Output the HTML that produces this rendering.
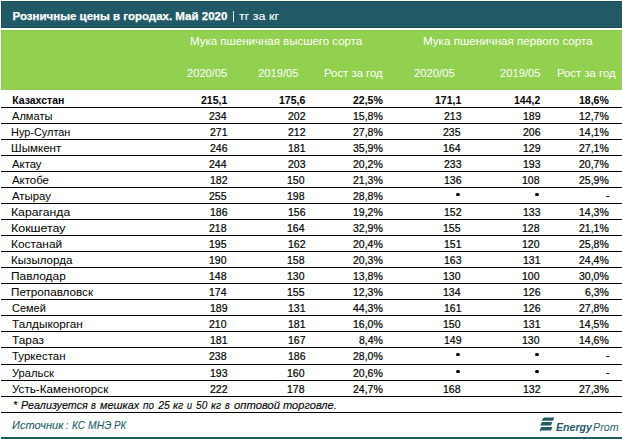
<!DOCTYPE html>
<html><head><meta charset="utf-8"><style>
html,body{margin:0;padding:0;background:#fff;}
body{width:622px;height:439px;position:relative;overflow:hidden;font-family:"Liberation Sans",sans-serif;}
.t{position:absolute;white-space:nowrap;line-height:20px;transform-origin:0 0;-webkit-text-stroke:0.2px currentColor;}
.b{-webkit-text-stroke:0;}
.i{-webkit-text-stroke:0.1px currentColor;}
.ln{position:absolute;left:1px;width:621px;height:1px;background:#000;}
#bar{position:absolute;left:1px;top:1px;width:621px;height:27px;background:#215967;box-sizing:border-box;border:1px solid #174d5c;border-right:none;}
#green{position:absolute;left:1px;top:30px;width:621px;height:60px;background:#92d050;box-sizing:border-box;border:1px solid #86c944;border-right:none;border-bottom:none;}
#pipe{position:absolute;left:232.5px;top:11px;width:1.2px;height:11px;background:#dfe8ea;}
.dot{position:absolute;width:3.3px;height:3.3px;border-radius:50%;background:#000;}
#bot{position:absolute;left:1px;top:437px;width:621px;height:2px;background:#215967;}
</style></head><body>
<div id="bar"></div>
<div id="green"></div>
<div id="pipe"></div>
<div class="ln" style="top:107px"></div><div class="ln" style="top:123px"></div><div class="ln" style="top:139px"></div><div class="ln" style="top:155px"></div><div class="ln" style="top:171px"></div><div class="ln" style="top:187px"></div><div class="ln" style="top:203px"></div><div class="ln" style="top:219px"></div><div class="ln" style="top:235px"></div><div class="ln" style="top:251px"></div><div class="ln" style="top:267px"></div><div class="ln" style="top:283px"></div><div class="ln" style="top:299px"></div><div class="ln" style="top:315px"></div><div class="ln" style="top:331px"></div><div class="ln" style="top:347px"></div><div class="ln" style="top:364px"></div><div class="ln" style="top:380px"></div><div class="ln" style="top:396px"></div><div class="ln" style="top:412px"></div>
<div class="dot" style="left:456.35px;top:192.55px"></div><div class="dot" style="left:535.35px;top:192.55px"></div><div class="dot" style="left:456.35px;top:352.55px"></div><div class="dot" style="left:535.35px;top:352.55px"></div><div class="dot" style="left:456.35px;top:369.55px"></div><div class="dot" style="left:535.35px;top:369.55px"></div>
<div id="bot"></div>
<svg style="position:absolute;left:536px;top:414px" width="22" height="22" viewBox="0 0 22 22">
<path fill="#235a66" d="M8,3.4 L18.4,3.4 L16.9,6.8 L5.9,6.8 Q6.4,4.2 8,3.4Z M6.3,8.1 L16.3,8.1 L15,11.6 L4.4,11.6 Q4.9,8.9 6.3,8.1Z M5.5,13.1 L16.3,13.1 L15,16.6 L5,16.6 L3.9,18.1 Q3.9,14 5.5,13.1Z"/>
</svg>
<div class="t b" style="left:12.60px;top:6.02px;font-size:11.5px;font-weight:bold;font-style:normal;color:#fff;-webkit-text-stroke:0.25px currentColor;">Розничные цены в городах. Май 2020</div><div class="t b" style="left:239.00px;top:6.02px;font-size:11.5px;font-weight:normal;font-style:normal;color:#fff;transform:scaleX(1.0919);-webkit-text-stroke:0.1px currentColor;">тг за кг</div><div class="t b" style="left:190.11px;top:31.36px;font-size:10.5px;font-weight:normal;font-style:normal;color:#fff;transform:scaleX(1.0949);">Мука пшеничная высшего сорта</div><div class="t b" style="left:423.39px;top:31.36px;font-size:10.5px;font-weight:normal;font-style:normal;color:#fff;transform:scaleX(1.1059);">Мука пшеничная первого сорта</div><div class="t b" style="left:187.45px;top:63.36px;font-size:10.5px;font-weight:normal;font-style:normal;color:#fff;transform:scaleX(1.0618);">2020/05</div><div class="t b" style="left:258.10px;top:63.36px;font-size:10.5px;font-weight:normal;font-style:normal;color:#fff;transform:scaleX(1.0658);">2019/05</div><div class="t b" style="left:324.12px;top:63.36px;font-size:10.5px;font-weight:normal;font-style:normal;color:#fff;transform:scaleX(1.0815);">Рост за год</div><div class="t b" style="left:414.00px;top:63.36px;font-size:10.5px;font-weight:normal;font-style:normal;color:#fff;transform:scaleX(1.0711);">2020/05</div><div class="t b" style="left:500.10px;top:63.36px;font-size:10.5px;font-weight:normal;font-style:normal;color:#fff;transform:scaleX(1.0658);">2019/05</div><div class="t b" style="left:557.02px;top:63.36px;font-size:10.5px;font-weight:normal;font-style:normal;color:#fff;transform:scaleX(1.0796);">Рост за год</div><div class="t b" style="left:12.20px;top:90.36px;font-size:10.5px;font-weight:bold;font-style:normal;color:#000;">Казахстан</div><div class="t b" style="left:201.00px;top:90.36px;font-size:10.5px;font-weight:bold;font-style:normal;color:#000;">215,1</div><div class="t b" style="left:279.00px;top:90.36px;font-size:10.5px;font-weight:bold;font-style:normal;color:#000;">175,6</div><div class="t b" style="left:353.00px;top:90.36px;font-size:10.5px;font-weight:bold;font-style:normal;color:#000;">22,5%</div><div class="t b" style="left:435.00px;top:90.36px;font-size:10.5px;font-weight:bold;font-style:normal;color:#000;">171,1</div><div class="t b" style="left:514.00px;top:90.36px;font-size:10.5px;font-weight:bold;font-style:normal;color:#000;">144,2</div><div class="t b" style="left:579.00px;top:90.36px;font-size:10.5px;font-weight:bold;font-style:normal;color:#000;">18,6%</div><div class="t" style="left:12.20px;top:106.36px;font-size:10.5px;font-weight:normal;font-style:normal;color:#000;transform:scaleX(1.0553);-webkit-text-stroke:0px currentColor;">Алматы</div><div class="t" style="left:209.00px;top:106.36px;font-size:10.5px;font-weight:normal;font-style:normal;color:#000;">234</div><div class="t" style="left:288.00px;top:106.36px;font-size:10.5px;font-weight:normal;font-style:normal;color:#000;">202</div><div class="t" style="left:353.00px;top:106.36px;font-size:10.5px;font-weight:normal;font-style:normal;color:#000;">15,8%</div><div class="t" style="left:444.00px;top:106.36px;font-size:10.5px;font-weight:normal;font-style:normal;color:#000;">213</div><div class="t" style="left:523.00px;top:106.36px;font-size:10.5px;font-weight:normal;font-style:normal;color:#000;">189</div><div class="t" style="left:579.00px;top:106.36px;font-size:10.5px;font-weight:normal;font-style:normal;color:#000;">12,7%</div><div class="t" style="left:11.16px;top:122.36px;font-size:10.5px;font-weight:normal;font-style:normal;color:#000;transform:scaleX(1.0393);-webkit-text-stroke:0px currentColor;">Нур-Султан</div><div class="t" style="left:210.00px;top:122.36px;font-size:10.5px;font-weight:normal;font-style:normal;color:#000;">271</div><div class="t" style="left:288.00px;top:122.36px;font-size:10.5px;font-weight:normal;font-style:normal;color:#000;">212</div><div class="t" style="left:353.00px;top:122.36px;font-size:10.5px;font-weight:normal;font-style:normal;color:#000;">27,8%</div><div class="t" style="left:443.00px;top:122.36px;font-size:10.5px;font-weight:normal;font-style:normal;color:#000;">235</div><div class="t" style="left:523.00px;top:122.36px;font-size:10.5px;font-weight:normal;font-style:normal;color:#000;">206</div><div class="t" style="left:579.00px;top:122.36px;font-size:10.5px;font-weight:normal;font-style:normal;color:#000;">14,1%</div><div class="t" style="left:11.10px;top:138.36px;font-size:10.5px;font-weight:normal;font-style:normal;color:#000;transform:scaleX(1.1044);-webkit-text-stroke:0px currentColor;">Шымкент</div><div class="t" style="left:210.00px;top:138.36px;font-size:10.5px;font-weight:normal;font-style:normal;color:#000;">246</div><div class="t" style="left:288.00px;top:138.36px;font-size:10.5px;font-weight:normal;font-style:normal;color:#000;">181</div><div class="t" style="left:353.00px;top:138.36px;font-size:10.5px;font-weight:normal;font-style:normal;color:#000;">35,9%</div><div class="t" style="left:443.00px;top:138.36px;font-size:10.5px;font-weight:normal;font-style:normal;color:#000;">164</div><div class="t" style="left:523.00px;top:138.36px;font-size:10.5px;font-weight:normal;font-style:normal;color:#000;">129</div><div class="t" style="left:579.00px;top:138.36px;font-size:10.5px;font-weight:normal;font-style:normal;color:#000;">27,1%</div><div class="t" style="left:12.20px;top:154.36px;font-size:10.5px;font-weight:normal;font-style:normal;color:#000;transform:scaleX(1.0786);-webkit-text-stroke:0px currentColor;">Актау</div><div class="t" style="left:209.00px;top:154.36px;font-size:10.5px;font-weight:normal;font-style:normal;color:#000;">244</div><div class="t" style="left:288.00px;top:154.36px;font-size:10.5px;font-weight:normal;font-style:normal;color:#000;">203</div><div class="t" style="left:353.00px;top:154.36px;font-size:10.5px;font-weight:normal;font-style:normal;color:#000;">20,2%</div><div class="t" style="left:444.00px;top:154.36px;font-size:10.5px;font-weight:normal;font-style:normal;color:#000;">233</div><div class="t" style="left:523.00px;top:154.36px;font-size:10.5px;font-weight:normal;font-style:normal;color:#000;">193</div><div class="t" style="left:579.00px;top:154.36px;font-size:10.5px;font-weight:normal;font-style:normal;color:#000;">20,7%</div><div class="t" style="left:12.20px;top:170.36px;font-size:10.5px;font-weight:normal;font-style:normal;color:#000;transform:scaleX(1.0882);-webkit-text-stroke:0px currentColor;">Актобе</div><div class="t" style="left:210.00px;top:170.36px;font-size:10.5px;font-weight:normal;font-style:normal;color:#000;">182</div><div class="t" style="left:287.00px;top:170.36px;font-size:10.5px;font-weight:normal;font-style:normal;color:#000;">150</div><div class="t" style="left:353.00px;top:170.36px;font-size:10.5px;font-weight:normal;font-style:normal;color:#000;">21,3%</div><div class="t" style="left:444.00px;top:170.36px;font-size:10.5px;font-weight:normal;font-style:normal;color:#000;">136</div><div class="t" style="left:522.00px;top:170.36px;font-size:10.5px;font-weight:normal;font-style:normal;color:#000;">108</div><div class="t" style="left:579.00px;top:170.36px;font-size:10.5px;font-weight:normal;font-style:normal;color:#000;">25,9%</div><div class="t" style="left:12.20px;top:186.36px;font-size:10.5px;font-weight:normal;font-style:normal;color:#000;transform:scaleX(1.0861);-webkit-text-stroke:0px currentColor;">Атырау</div><div class="t" style="left:209.00px;top:186.36px;font-size:10.5px;font-weight:normal;font-style:normal;color:#000;">255</div><div class="t" style="left:287.00px;top:186.36px;font-size:10.5px;font-weight:normal;font-style:normal;color:#000;">198</div><div class="t" style="left:353.00px;top:186.36px;font-size:10.5px;font-weight:normal;font-style:normal;color:#000;">28,8%</div><div class="t" style="left:606.00px;top:185.36px;font-size:10.5px;font-weight:normal;font-style:normal;color:#000;">-</div><div class="t" style="left:11.04px;top:202.36px;font-size:10.5px;font-weight:normal;font-style:normal;color:#000;transform:scaleX(1.1640);-webkit-text-stroke:0px currentColor;">Караганда</div><div class="t" style="left:210.00px;top:202.36px;font-size:10.5px;font-weight:normal;font-style:normal;color:#000;">186</div><div class="t" style="left:288.00px;top:202.36px;font-size:10.5px;font-weight:normal;font-style:normal;color:#000;">156</div><div class="t" style="left:353.00px;top:202.36px;font-size:10.5px;font-weight:normal;font-style:normal;color:#000;">19,2%</div><div class="t" style="left:444.00px;top:202.36px;font-size:10.5px;font-weight:normal;font-style:normal;color:#000;">152</div><div class="t" style="left:523.00px;top:202.36px;font-size:10.5px;font-weight:normal;font-style:normal;color:#000;">133</div><div class="t" style="left:579.00px;top:202.36px;font-size:10.5px;font-weight:normal;font-style:normal;color:#000;">14,3%</div><div class="t" style="left:11.02px;top:218.36px;font-size:10.5px;font-weight:normal;font-style:normal;color:#000;transform:scaleX(1.1822);-webkit-text-stroke:0px currentColor;">Кокшетау</div><div class="t" style="left:209.00px;top:218.36px;font-size:10.5px;font-weight:normal;font-style:normal;color:#000;">218</div><div class="t" style="left:287.00px;top:218.36px;font-size:10.5px;font-weight:normal;font-style:normal;color:#000;">164</div><div class="t" style="left:353.00px;top:218.36px;font-size:10.5px;font-weight:normal;font-style:normal;color:#000;">32,9%</div><div class="t" style="left:443.00px;top:218.36px;font-size:10.5px;font-weight:normal;font-style:normal;color:#000;">155</div><div class="t" style="left:522.00px;top:218.36px;font-size:10.5px;font-weight:normal;font-style:normal;color:#000;">128</div><div class="t" style="left:579.00px;top:218.36px;font-size:10.5px;font-weight:normal;font-style:normal;color:#000;">21,1%</div><div class="t" style="left:11.07px;top:234.36px;font-size:10.5px;font-weight:normal;font-style:normal;color:#000;transform:scaleX(1.1295);-webkit-text-stroke:0px currentColor;">Костанай</div><div class="t" style="left:209.00px;top:234.36px;font-size:10.5px;font-weight:normal;font-style:normal;color:#000;">195</div><div class="t" style="left:288.00px;top:234.36px;font-size:10.5px;font-weight:normal;font-style:normal;color:#000;">162</div><div class="t" style="left:353.00px;top:234.36px;font-size:10.5px;font-weight:normal;font-style:normal;color:#000;">20,4%</div><div class="t" style="left:444.00px;top:234.36px;font-size:10.5px;font-weight:normal;font-style:normal;color:#000;">151</div><div class="t" style="left:522.00px;top:234.36px;font-size:10.5px;font-weight:normal;font-style:normal;color:#000;">120</div><div class="t" style="left:579.00px;top:234.36px;font-size:10.5px;font-weight:normal;font-style:normal;color:#000;">25,8%</div><div class="t" style="left:11.10px;top:250.36px;font-size:10.5px;font-weight:normal;font-style:normal;color:#000;transform:scaleX(1.1036);-webkit-text-stroke:0px currentColor;">Кызылорда</div><div class="t" style="left:209.00px;top:250.36px;font-size:10.5px;font-weight:normal;font-style:normal;color:#000;">190</div><div class="t" style="left:287.00px;top:250.36px;font-size:10.5px;font-weight:normal;font-style:normal;color:#000;">158</div><div class="t" style="left:353.00px;top:250.36px;font-size:10.5px;font-weight:normal;font-style:normal;color:#000;">20,3%</div><div class="t" style="left:444.00px;top:250.36px;font-size:10.5px;font-weight:normal;font-style:normal;color:#000;">163</div><div class="t" style="left:523.00px;top:250.36px;font-size:10.5px;font-weight:normal;font-style:normal;color:#000;">131</div><div class="t" style="left:579.00px;top:250.36px;font-size:10.5px;font-weight:normal;font-style:normal;color:#000;">24,4%</div><div class="t" style="left:11.07px;top:266.36px;font-size:10.5px;font-weight:normal;font-style:normal;color:#000;transform:scaleX(1.1319);-webkit-text-stroke:0px currentColor;">Павлодар</div><div class="t" style="left:209.00px;top:266.36px;font-size:10.5px;font-weight:normal;font-style:normal;color:#000;">148</div><div class="t" style="left:287.00px;top:266.36px;font-size:10.5px;font-weight:normal;font-style:normal;color:#000;">130</div><div class="t" style="left:353.00px;top:266.36px;font-size:10.5px;font-weight:normal;font-style:normal;color:#000;">13,8%</div><div class="t" style="left:443.00px;top:266.36px;font-size:10.5px;font-weight:normal;font-style:normal;color:#000;">130</div><div class="t" style="left:522.00px;top:266.36px;font-size:10.5px;font-weight:normal;font-style:normal;color:#000;">100</div><div class="t" style="left:579.00px;top:266.36px;font-size:10.5px;font-weight:normal;font-style:normal;color:#000;">30,0%</div><div class="t" style="left:11.09px;top:282.36px;font-size:10.5px;font-weight:normal;font-style:normal;color:#000;transform:scaleX(1.1123);-webkit-text-stroke:0px currentColor;">Петропавловск</div><div class="t" style="left:209.00px;top:282.36px;font-size:10.5px;font-weight:normal;font-style:normal;color:#000;">174</div><div class="t" style="left:287.00px;top:282.36px;font-size:10.5px;font-weight:normal;font-style:normal;color:#000;">155</div><div class="t" style="left:353.00px;top:282.36px;font-size:10.5px;font-weight:normal;font-style:normal;color:#000;">12,3%</div><div class="t" style="left:443.00px;top:282.36px;font-size:10.5px;font-weight:normal;font-style:normal;color:#000;">134</div><div class="t" style="left:523.00px;top:282.36px;font-size:10.5px;font-weight:normal;font-style:normal;color:#000;">126</div><div class="t" style="left:585.00px;top:282.36px;font-size:10.5px;font-weight:normal;font-style:normal;color:#000;">6,3%</div><div class="t" style="left:12.20px;top:298.36px;font-size:10.5px;font-weight:normal;font-style:normal;color:#000;transform:scaleX(1.0438);-webkit-text-stroke:0px currentColor;">Семей</div><div class="t" style="left:210.00px;top:298.36px;font-size:10.5px;font-weight:normal;font-style:normal;color:#000;">189</div><div class="t" style="left:288.00px;top:298.36px;font-size:10.5px;font-weight:normal;font-style:normal;color:#000;">131</div><div class="t" style="left:353.00px;top:298.36px;font-size:10.5px;font-weight:normal;font-style:normal;color:#000;">44,3%</div><div class="t" style="left:444.00px;top:298.36px;font-size:10.5px;font-weight:normal;font-style:normal;color:#000;">161</div><div class="t" style="left:523.00px;top:298.36px;font-size:10.5px;font-weight:normal;font-style:normal;color:#000;">126</div><div class="t" style="left:579.00px;top:298.36px;font-size:10.5px;font-weight:normal;font-style:normal;color:#000;">27,8%</div><div class="t" style="left:12.20px;top:314.36px;font-size:10.5px;font-weight:normal;font-style:normal;color:#000;transform:scaleX(1.1206);-webkit-text-stroke:0px currentColor;">Талдыкорган</div><div class="t" style="left:209.00px;top:314.36px;font-size:10.5px;font-weight:normal;font-style:normal;color:#000;">210</div><div class="t" style="left:288.00px;top:314.36px;font-size:10.5px;font-weight:normal;font-style:normal;color:#000;">181</div><div class="t" style="left:353.00px;top:314.36px;font-size:10.5px;font-weight:normal;font-style:normal;color:#000;">16,0%</div><div class="t" style="left:443.00px;top:314.36px;font-size:10.5px;font-weight:normal;font-style:normal;color:#000;">150</div><div class="t" style="left:523.00px;top:314.36px;font-size:10.5px;font-weight:normal;font-style:normal;color:#000;">131</div><div class="t" style="left:579.00px;top:314.36px;font-size:10.5px;font-weight:normal;font-style:normal;color:#000;">14,5%</div><div class="t" style="left:12.20px;top:330.36px;font-size:10.5px;font-weight:normal;font-style:normal;color:#000;transform:scaleX(1.1321);-webkit-text-stroke:0px currentColor;">Тараз</div><div class="t" style="left:210.00px;top:330.36px;font-size:10.5px;font-weight:normal;font-style:normal;color:#000;">181</div><div class="t" style="left:288.00px;top:330.36px;font-size:10.5px;font-weight:normal;font-style:normal;color:#000;">167</div><div class="t" style="left:359.00px;top:330.36px;font-size:10.5px;font-weight:normal;font-style:normal;color:#000;">8,4%</div><div class="t" style="left:444.00px;top:330.36px;font-size:10.5px;font-weight:normal;font-style:normal;color:#000;">149</div><div class="t" style="left:522.00px;top:330.36px;font-size:10.5px;font-weight:normal;font-style:normal;color:#000;">130</div><div class="t" style="left:579.00px;top:330.36px;font-size:10.5px;font-weight:normal;font-style:normal;color:#000;">14,6%</div><div class="t" style="left:12.20px;top:346.36px;font-size:10.5px;font-weight:normal;font-style:normal;color:#000;transform:scaleX(1.0939);-webkit-text-stroke:0px currentColor;">Туркестан</div><div class="t" style="left:209.00px;top:346.36px;font-size:10.5px;font-weight:normal;font-style:normal;color:#000;">238</div><div class="t" style="left:288.00px;top:346.36px;font-size:10.5px;font-weight:normal;font-style:normal;color:#000;">186</div><div class="t" style="left:353.00px;top:346.36px;font-size:10.5px;font-weight:normal;font-style:normal;color:#000;">28,0%</div><div class="t" style="left:606.00px;top:345.36px;font-size:10.5px;font-weight:normal;font-style:normal;color:#000;">-</div><div class="t" style="left:12.20px;top:363.36px;font-size:10.5px;font-weight:normal;font-style:normal;color:#000;transform:scaleX(1.0650);-webkit-text-stroke:0px currentColor;">Уральск</div><div class="t" style="left:210.00px;top:363.36px;font-size:10.5px;font-weight:normal;font-style:normal;color:#000;">193</div><div class="t" style="left:287.00px;top:363.36px;font-size:10.5px;font-weight:normal;font-style:normal;color:#000;">160</div><div class="t" style="left:353.00px;top:363.36px;font-size:10.5px;font-weight:normal;font-style:normal;color:#000;">20,6%</div><div class="t" style="left:606.00px;top:362.36px;font-size:10.5px;font-weight:normal;font-style:normal;color:#000;">-</div><div class="t" style="left:12.20px;top:379.36px;font-size:10.5px;font-weight:normal;font-style:normal;color:#000;transform:scaleX(1.1092);-webkit-text-stroke:0px currentColor;">Усть-Каменогорск</div><div class="t" style="left:210.00px;top:379.36px;font-size:10.5px;font-weight:normal;font-style:normal;color:#000;">222</div><div class="t" style="left:287.00px;top:379.36px;font-size:10.5px;font-weight:normal;font-style:normal;color:#000;">178</div><div class="t" style="left:353.00px;top:379.36px;font-size:10.5px;font-weight:normal;font-style:normal;color:#000;">24,7%</div><div class="t" style="left:443.00px;top:379.36px;font-size:10.5px;font-weight:normal;font-style:normal;color:#000;">168</div><div class="t" style="left:523.00px;top:379.36px;font-size:10.5px;font-weight:normal;font-style:normal;color:#000;">132</div><div class="t" style="left:579.00px;top:379.36px;font-size:10.5px;font-weight:normal;font-style:normal;color:#000;">27,3%</div><div class="t i" style="left:13.20px;top:395.36px;font-size:10.5px;font-weight:normal;font-style:italic;color:#000;transform:scaleX(1.0400);">*</div><div class="t i" style="left:21.30px;top:395.36px;font-size:10.5px;font-weight:normal;font-style:italic;color:#000;transform:scaleX(1.0262);">Реализуется</div><div class="t i" style="left:91.00px;top:395.36px;font-size:10.5px;font-weight:normal;font-style:italic;color:#000;transform:scaleX(0.8833);">в</div><div class="t i" style="left:100.20px;top:395.36px;font-size:10.5px;font-weight:normal;font-style:italic;color:#000;transform:scaleX(1.0368);">мешках</div><div class="t i" style="left:143.00px;top:395.36px;font-size:10.5px;font-weight:normal;font-style:italic;color:#000;transform:scaleX(0.9333);">по</div><div class="t i" style="left:158.20px;top:395.36px;font-size:10.5px;font-weight:normal;font-style:italic;color:#000;">25</div><div class="t i" style="left:173.30px;top:395.36px;font-size:10.5px;font-weight:normal;font-style:italic;color:#000;transform:scaleX(1.0200);">кг</div><div class="t i" style="left:187.40px;top:395.36px;font-size:10.5px;font-weight:normal;font-style:italic;color:#000;transform:scaleX(0.8667);">и</div><div class="t i" style="left:195.90px;top:395.36px;font-size:10.5px;font-weight:normal;font-style:italic;color:#000;transform:scaleX(0.9667);">50</div><div class="t i" style="left:211.40px;top:395.36px;font-size:10.5px;font-weight:normal;font-style:italic;color:#000;transform:scaleX(1.0100);">кг</div><div class="t i" style="left:225.30px;top:395.36px;font-size:10.5px;font-weight:normal;font-style:italic;color:#000;transform:scaleX(0.8667);">в</div><div class="t i" style="left:234.20px;top:395.36px;font-size:10.5px;font-weight:normal;font-style:italic;color:#000;transform:scaleX(1.0698);">оптовой</div><div class="t i" style="left:283.40px;top:395.36px;font-size:10.5px;font-weight:normal;font-style:italic;color:#000;transform:scaleX(1.0540);">торговле.</div><div class="t i" style="left:12.40px;top:415.36px;font-size:10.5px;font-weight:normal;font-style:italic;color:#245c6b;transform:scaleX(1.0531);">Источник</div><div class="t i" style="left:65.60px;top:415.36px;font-size:10.5px;font-weight:normal;font-style:italic;color:#245c6b;transform:scaleX(0.7333);">:</div><div class="t i" style="left:71.70px;top:415.36px;font-size:10.5px;font-weight:normal;font-style:italic;color:#245c6b;transform:scaleX(0.9500);">КС</div><div class="t i" style="left:87.60px;top:415.36px;font-size:10.5px;font-weight:normal;font-style:italic;color:#245c6b;transform:scaleX(0.9875);">МНЭ</div><div class="t i" style="left:113.80px;top:415.36px;font-size:10.5px;font-weight:normal;font-style:italic;color:#245c6b;transform:scaleX(0.9214);">РК</div><div class="t b i" style="left:556.00px;top:417.02px;font-size:11.5px;font-weight:bold;font-style:italic;color:#235a66;transform:scaleX(0.9200);-webkit-text-stroke:0px currentColor;">Energy</div><div class="t i" style="left:592.80px;top:417.02px;font-size:11.5px;font-weight:normal;font-style:italic;color:#2b6170;transform:scaleX(0.9333);-webkit-text-stroke:0px currentColor;">Prom</div>
</body></html>
